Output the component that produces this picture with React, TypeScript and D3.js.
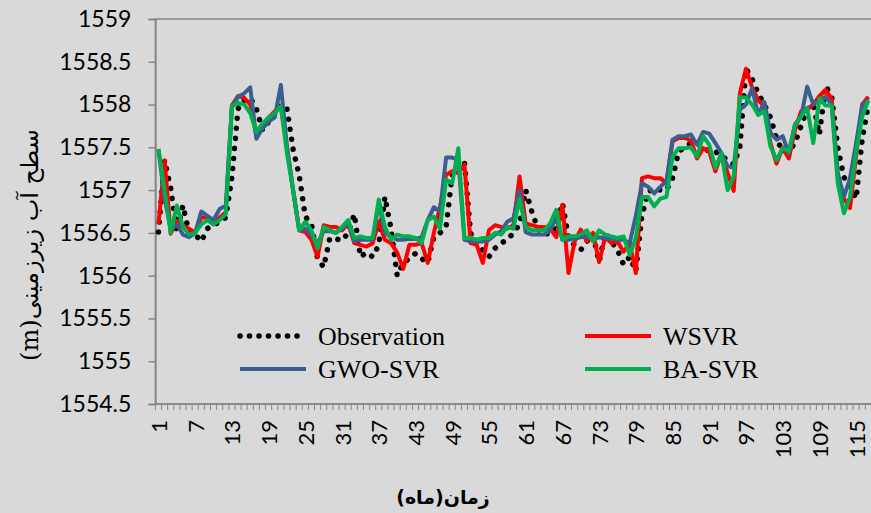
import React, { useEffect, useRef } from "react";
import * as d3 from "d3";

// Groundwater level: observation vs. three SVR models, monthly

const months = d3.range(1, 118);

const observation = [
  1556.51, 1557.35, 1557.02, 1556.5, 1556.82, 1556.5, 1556.48, 1556.4, 1556.55, 1556.6,
  1556.62, 1556.68, 1557.15, 1557.95, 1558.05, 1558.08, 1557.95, 1557.7, 1557.8, 1557.9,
  1558.0, 1557.95, 1557.48, 1557.17, 1556.69, 1556.6, 1556.2, 1556.1, 1556.44, 1556.43,
  1556.41, 1556.5, 1556.72, 1556.22, 1556.27, 1556.22, 1556.36, 1556.92, 1556.55, 1556.0,
  1556.15, 1556.2, 1556.26, 1556.2, 1556.15, 1556.45, 1556.5, 1556.57, 1557.18, 1557.3,
  1557.33, 1556.5, 1556.36, 1556.3, 1556.22, 1556.32, 1556.38, 1556.42, 1556.5, 1556.6,
  1557.0, 1556.75, 1556.55, 1556.48, 1556.5, 1556.55, 1556.85, 1556.45, 1556.35, 1556.3,
  1556.4, 1556.48, 1556.16, 1556.5, 1556.4, 1556.3, 1556.13, 1556.22, 1556.05, 1556.7,
  1556.98, 1557.02, 1557.0, 1557.0, 1557.14, 1557.45, 1557.5, 1557.55, 1557.55, 1557.5,
  1557.45, 1557.45, 1557.4, 1557.35, 1557.3, 1557.5, 1558.42, 1558.3, 1558.13, 1558.0,
  1557.85, 1557.6, 1557.45, 1557.45, 1557.55, 1557.75, 1557.95, 1558.0, 1557.65, 1558.22,
  1558.1, 1557.5, 1557.15, 1557.05, 1556.9, 1557.6, 1558.0,
];

const wsvr = [
  1556.6, 1557.35, 1556.49, 1556.64, 1556.58, 1556.55, 1556.5, 1556.68, 1556.68, 1556.6,
  1556.68, 1556.74, 1557.99, 1558.1, 1558.08, 1558.0, 1557.64, 1557.75, 1557.85, 1557.92,
  1557.98, 1557.5, 1557.0, 1556.53, 1556.51, 1556.42, 1556.22, 1556.59, 1556.57, 1556.57,
  1556.53, 1556.61, 1556.38, 1556.36, 1556.34, 1556.38, 1556.63, 1556.42, 1556.38, 1556.27,
  1556.08, 1556.36, 1556.36, 1556.38, 1556.15, 1556.5, 1556.8, 1557.18, 1557.22, 1557.2,
  1557.3, 1556.38, 1556.36, 1556.15, 1556.53, 1556.59, 1556.57, 1556.55, 1556.59, 1557.16,
  1556.61, 1556.59, 1556.57, 1556.57, 1556.55, 1556.45, 1556.83, 1556.03, 1556.4, 1556.54,
  1556.4, 1556.5, 1556.16, 1556.45, 1556.38, 1556.4, 1556.28, 1556.38, 1556.03, 1557.14,
  1557.16, 1557.14, 1557.14, 1557.08, 1557.57, 1557.61, 1557.61, 1557.58, 1557.37, 1557.49,
  1557.45, 1557.22, 1557.43, 1557.2, 1556.99, 1558.13, 1558.42, 1558.2, 1558.05, 1557.98,
  1557.55, 1557.31, 1557.5, 1557.37, 1557.7, 1557.92, 1557.95, 1558.0, 1558.1, 1558.17,
  1558.07, 1557.16, 1556.9, 1556.79, 1557.4, 1558.0, 1558.09,
];

const gwoSvr = [
  1557.48, 1556.9, 1556.55, 1556.6, 1556.48, 1556.45, 1556.5, 1556.75, 1556.7, 1556.65,
  1556.78, 1556.82, 1557.97, 1558.09, 1558.13, 1558.2, 1557.6, 1557.72, 1557.8, 1557.85,
  1558.23, 1557.5, 1557.0, 1556.53, 1556.55, 1556.47, 1556.38, 1556.52, 1556.52, 1556.5,
  1556.55, 1556.62, 1556.4, 1556.42, 1556.42, 1556.42, 1556.85, 1556.5, 1556.45, 1556.42,
  1556.42, 1556.43, 1556.43, 1556.45, 1556.65, 1556.8, 1556.75, 1557.38, 1557.38, 1557.35,
  1556.42, 1556.4, 1556.4, 1556.4, 1556.42, 1556.48, 1556.52, 1556.63, 1556.67, 1557.0,
  1556.51, 1556.48, 1556.48, 1556.48, 1556.53, 1556.68, 1556.42, 1556.42, 1556.43, 1556.45,
  1556.46, 1556.42, 1556.45, 1556.44, 1556.43, 1556.42, 1556.42, 1556.38, 1556.7, 1557.08,
  1557.04, 1556.96, 1557.04, 1557.1, 1557.59, 1557.63, 1557.63, 1557.65, 1557.53, 1557.68,
  1557.66, 1557.55, 1557.43, 1557.28, 1557.26, 1557.94, 1558.0, 1558.19, 1557.88, 1558.03,
  1557.67, 1557.59, 1557.63, 1557.43, 1557.77, 1557.86, 1558.21, 1558.0, 1558.05, 1558.09,
  1558.0, 1557.2, 1556.92, 1557.14, 1557.55, 1558.0, 1558.05,
];

const baSvr = [
  1557.48, 1557.0, 1556.5, 1556.82, 1556.57, 1556.48, 1556.5, 1556.6, 1556.65, 1556.6,
  1556.65, 1556.72, 1557.98, 1558.02, 1558.0, 1557.9, 1557.68, 1557.78, 1557.85, 1557.9,
  1557.98, 1557.43, 1557.0, 1556.53, 1556.63, 1556.53, 1556.32, 1556.57, 1556.53, 1556.5,
  1556.57, 1556.65, 1556.44, 1556.46, 1556.44, 1556.44, 1556.89, 1556.57, 1556.42, 1556.48,
  1556.46, 1556.46, 1556.44, 1556.38, 1556.65, 1556.69, 1556.55, 1557.12, 1557.08, 1557.49,
  1556.44, 1556.44, 1556.42, 1556.44, 1556.44, 1556.5, 1556.48, 1556.57, 1556.55, 1556.9,
  1556.57, 1556.53, 1556.53, 1556.53, 1556.61, 1556.77, 1556.42, 1556.46, 1556.46, 1556.48,
  1556.53, 1556.4, 1556.53, 1556.48, 1556.46, 1556.44, 1556.46, 1556.24, 1556.44, 1556.92,
  1556.92, 1556.81, 1556.9, 1556.92, 1557.39, 1557.49, 1557.49, 1557.5, 1557.39, 1557.63,
  1557.53, 1557.26, 1557.43, 1557.0, 1557.16, 1558.09, 1558.08, 1558.0, 1557.88, 1557.92,
  1557.51, 1557.35, 1557.49, 1557.45, 1557.76, 1557.86, 1557.96, 1557.55, 1558.07, 1557.99,
  1557.99, 1557.08, 1556.73, 1556.92, 1557.45, 1557.86, 1558.05,
];

const yTicks = [1554.5, 1555, 1555.5, 1556, 1556.5, 1557, 1557.5, 1558, 1558.5, 1559];
const xLabelEvery = 6;

const App = () => {
  const svgRef = useRef<SVGSVGElement>(null);

  useEffect(() => {
    const width = 871;
    const height = 513;
    const left = 155.4;
    const top = 19;
    const bottom = 404;
    const step = 6.12;

    const svg = d3.select(svgRef.current);
    svg.selectAll("*").remove();

    svg.append("rect").attr("width", width).attr("height", height).attr("fill", "#d9d9d9");

    const x = d3.scaleBand<number>()
      .domain(d3.range(1, 121))
      .range([left, left + 120 * step]);
    const cx = (m: number) => (x(m) as number) + x.bandwidth() / 2;

    const y = d3.scaleLinear().domain([1554.5, 1559]).range([bottom, top]);

    // plot frame
    svg.append("rect")
      .attr("x", left).attr("y", top)
      .attr("width", 120 * step).attr("height", bottom - top)
      .attr("fill", "none").attr("stroke", "#868686").attr("stroke-width", 1.5);

    // y axis
    const yAxis = svg.append("g")
      .attr("transform", `translate(${left},0)`)
      .call(d3.axisLeft(y).tickValues(yTicks).tickSize(7).tickPadding(17).tickFormat(d3.format("")));
    yAxis.select(".domain").attr("stroke", "#868686").attr("stroke-width", 1.5);
    yAxis.selectAll(".tick line").attr("stroke", "#868686").attr("stroke-width", 1.5);
    yAxis.selectAll(".tick text")
      .attr("font-family", "Lato, sans-serif").attr("font-size", 23).attr("fill", "#000");

    // x axis: minor ticks at category boundaries, labels every 6 months
    svg.append("line")
      .attr("x1", left).attr("x2", left + 120 * step)
      .attr("y1", bottom).attr("y2", bottom)
      .attr("stroke", "#868686").attr("stroke-width", 1.5);
    svg.append("g")
      .selectAll("line")
      .data(x.domain())
      .join("line")
      .attr("x1", d => x(d) as number).attr("x2", d => x(d) as number)
      .attr("y1", bottom).attr("y2", bottom + 6)
      .attr("stroke", "#868686").attr("stroke-width", 1);
    svg.append("g")
      .selectAll("text")
      .data(months.filter(m => (m - 1) % xLabelEvery === 0))
      .join("text")
      .attr("transform", d => `translate(${cx(d)},${bottom + 16}) rotate(-90)`)
      .attr("text-anchor", "end")
      .attr("dominant-baseline", "central")
      .attr("font-family", "Lato, sans-serif").attr("font-size", 22).attr("fill", "#000")
      .text(d => d);

    const line = d3.line<number>()
      .x((_, i) => cx(months[i]))
      .y(d => y(d));

    const series = [
      { values: observation, color: "#000", width: 5.5, dash: "0.1 10" },
      { values: wsvr, color: "#ff0000", width: 4, dash: null },
      { values: gwoSvr, color: "#3a5f8f", width: 4, dash: null },
      { values: baSvr, color: "#00b050", width: 4, dash: null },
    ];

    series.forEach(s => {
      svg.append("path")
        .datum(s.values)
        .attr("d", line)
        .attr("fill", "none")
        .attr("stroke", s.color)
        .attr("stroke-width", s.width)
        .attr("stroke-linejoin", "round")
        .attr("stroke-linecap", s.dash ? "round" : "butt")
        .attr("stroke-dasharray", s.dash);
    });

    // legend
    const legend = [
      { name: "Observation", color: "#000", width: 5.5, dash: "0.1 9.4", x: 240, y: 336 },
      { name: "WSVR", color: "#ff0000", width: 4, dash: null, x: 585, y: 336 },
      { name: "GWO-SVR", color: "#3a5f8f", width: 4, dash: null, x: 240, y: 369 },
      { name: "BA-SVR", color: "#00b050", width: 4, dash: null, x: 585, y: 369 },
    ];
    const lg = svg.append("g").selectAll("g").data(legend).join("g");
    lg.append("line")
      .attr("x1", d => d.x).attr("x2", d => d.x + 66)
      .attr("y1", d => d.y).attr("y2", d => d.y)
      .attr("stroke", d => d.color)
      .attr("stroke-width", d => d.width)
      .attr("stroke-linecap", d => (d.dash ? "round" : "butt"))
      .attr("stroke-dasharray", d => d.dash);
    lg.append("text")
      .attr("x", d => d.x + 78).attr("y", d => d.y)
      .attr("dominant-baseline", "central")
      .attr("font-family", "'Liberation Serif', serif").attr("font-size", 26).attr("fill", "#000")
      .text(d => d.name);

    // axis titles
    svg.append("text")
      .attr("transform", "translate(30,245) rotate(-90)")
      .attr("direction", "rtl")
      .attr("text-anchor", "middle")
      .attr("dominant-baseline", "central")
      .attr("font-family", "'DejaVu Serif', 'DejaVu Sans', serif").attr("font-size", 24).attr("fill", "#000")
      .text("سطح آب زیرزمینی(m)");

    svg.append("text")
      .attr("x", 443).attr("y", 497)
      .attr("direction", "rtl")
      .attr("text-anchor", "middle")
      .attr("dominant-baseline", "central")
      .attr("font-family", "'DejaVu Sans', sans-serif").attr("font-size", 19).attr("font-weight", "bold").attr("fill", "#000")
      .text("زمان(ماه)");
  }, []);

  return (
    <svg ref={svgRef} width={871} height={513} style={{ position: "absolute", left: 0, top: 0 }}></svg>
  );
};

export default App;
